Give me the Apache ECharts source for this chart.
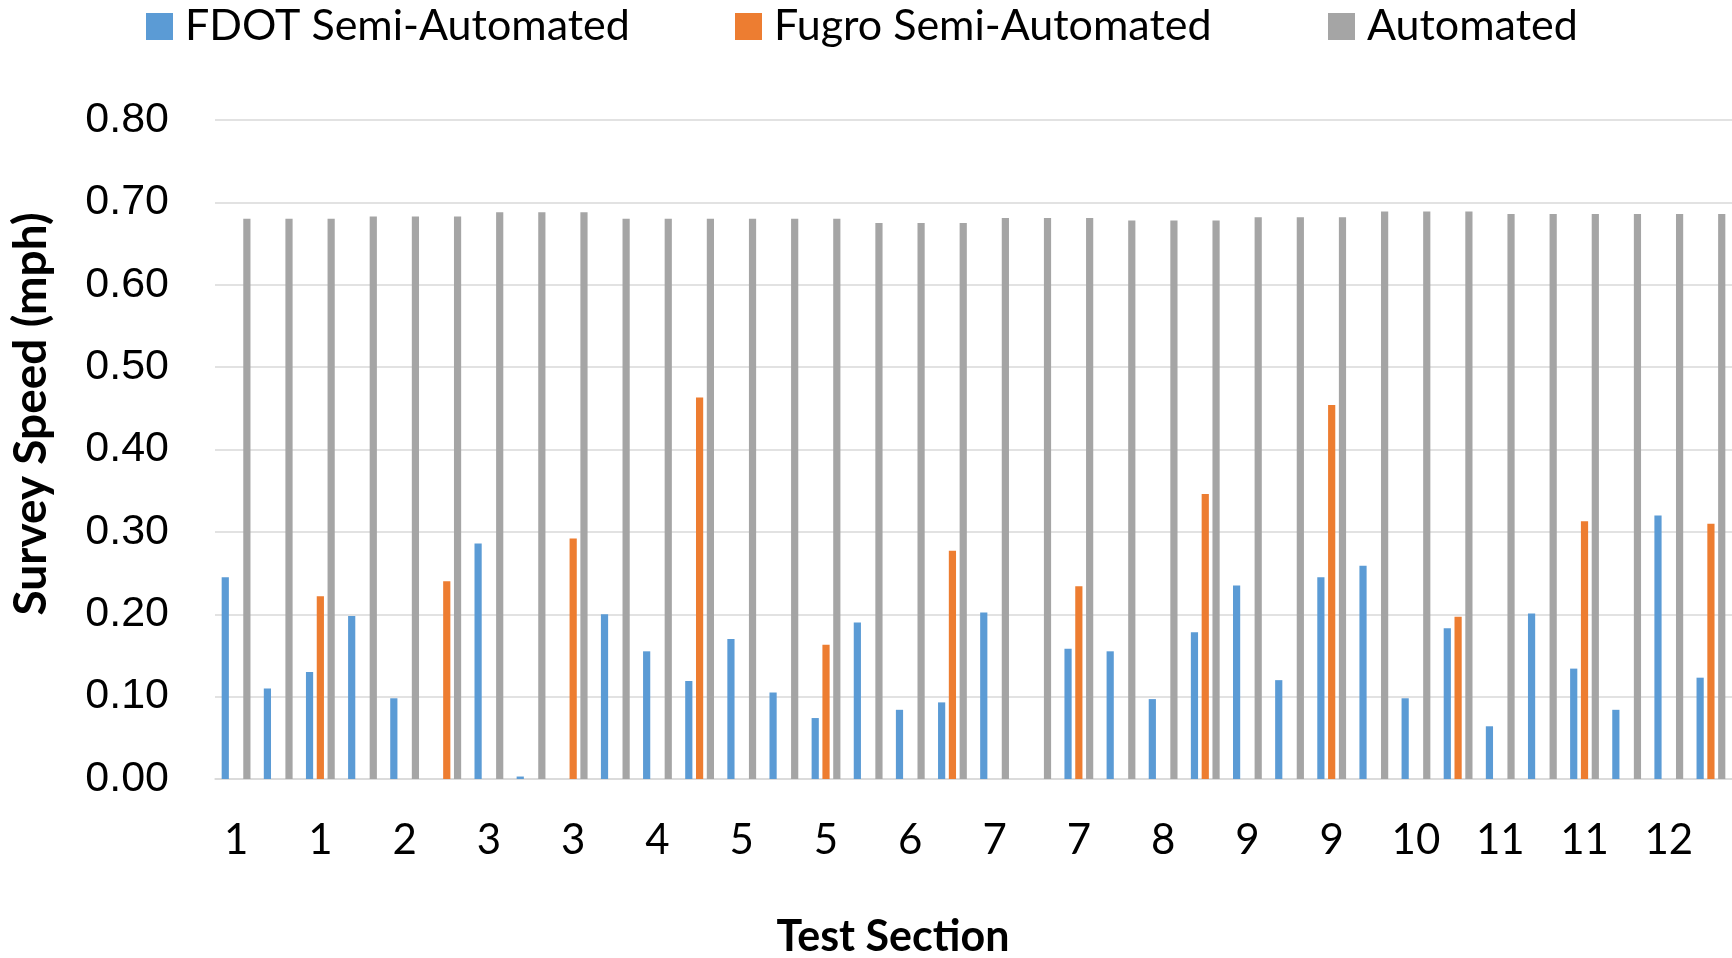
<!DOCTYPE html>
<html>
<head>
<meta charset="utf-8">
<title>Survey Speed by Test Section</title>
<script src="https://cdn.jsdelivr.net/npm/echarts@6/dist/echarts.min.js"></script>
<style>
  html, body { margin: 0; padding: 0; background: #ffffff; }
  #chart { width: 1732px; height: 958px; }
</style>
</head>
<body>
<div id="chart"></div>
<script>
// Test section of each run (three runs per section)
const sections = [
  '1', '1', '1', '2', '2', '2', '3', '3', '3', '4', '4', '4',
  '5', '5', '5', '6', '6', '6', '7', '7', '7', '8', '8', '8',
  '9', '9', '9', '10', '10', '10', '11', '11', '11', '12', '12', '12'
];

// Survey speed (mph); null where no run was recorded
const fdotSemiAutomated = [
  0.245, 0.110, 0.130, 0.198, 0.098, null, 0.286, 0.003, null, 0.200, 0.155, 0.119,
  0.170, 0.105, 0.074, 0.190, 0.084, 0.093, 0.202, null, 0.158, 0.155, 0.097, 0.178,
  0.235, 0.120, 0.245, 0.259, 0.098, 0.183, 0.064, 0.201, 0.134, 0.084, 0.320, 0.123
];

const fugroSemiAutomated = [
  null, null, 0.222, null, null, 0.240, null, null, 0.292, null, null, 0.463,
  null, null, 0.163, null, null, 0.277, null, null, 0.234, null, null, 0.346,
  null, null, 0.454, null, null, 0.197, null, null, 0.313, null, null, 0.310
];

const automated = [
  0.680, 0.680, 0.680, 0.683, 0.683, 0.683, 0.688, 0.688, 0.688, 0.680, 0.680, 0.680,
  0.680, 0.680, 0.680, 0.675, 0.675, 0.675, 0.681, 0.681, 0.681, 0.678, 0.678, 0.678,
  0.682, 0.682, 0.682, 0.689, 0.689, 0.689, 0.686, 0.686, 0.686, 0.686, 0.686, 0.686
];

const seriesNames = ['FDOT Semi-Automated', 'Fugro Semi-Automated', 'Automated'];
const seriesColors = ['#5B9BD5', '#ED7D31', '#A5A5A5'];
const yTicks = { min: 0, max: 0.8, interval: 0.1 };

const FONT = 'Lato, "Open Sans", sans-serif';
const gridColor = '#D9D9D9';

const chart = echarts.init(document.getElementById('chart'), null, { renderer: 'canvas' });

function legendAt(name, left) {
  return {
    data: [name],
    left: left,
    top: 0,
    icon: 'rect',
    itemWidth: 27,
    itemHeight: 27,
    selectedMode: false,
    textStyle: {
      fontFamily: FONT,
      fontSize: 43,
      color: '#000000',
      padding: [0, 0, 0, 7]
    }
  };
}

const option = {
  animation: false,
  backgroundColor: '#ffffff',
  legend: [
    legendAt(seriesNames[0], 141),
    legendAt(seriesNames[1], 730),
    legendAt(seriesNames[2], 1323)
  ],
  grid: { left: 215, right: 0, top: 120, bottom: 179, containLabel: false },
  xAxis: {
    type: 'category',
    data: sections,
    axisLine: { show: true, lineStyle: { color: gridColor, width: 1.5 } },
    axisTick: { show: false },
    axisLabel: {
      interval: 1,
      margin: 40,
      fontFamily: FONT,
      fontSize: 42,
      color: '#000000'
    }
  },
  yAxis: {
    type: 'value',
    min: yTicks.min,
    max: yTicks.max,
    interval: yTicks.interval,
    axisLine: { show: false },
    axisTick: { show: false },
    splitLine: { show: true, lineStyle: { color: gridColor, width: 1.5 } },
    axisLabel: {
      margin: 46,
      fontFamily: '"Liberation Sans", Arial, sans-serif',
      fontSize: 43,
      color: '#000000',
      formatter: function (v) { return v.toFixed(2); }
    }
  },
  series: [
    { name: seriesNames[0], type: 'bar', data: fdotSemiAutomated, barWidth: 7.2, barGap: '50%', itemStyle: { color: seriesColors[0] } },
    { name: seriesNames[1], type: 'bar', data: fugroSemiAutomated, barWidth: 7.2, barGap: '50%', itemStyle: { color: seriesColors[1] } },
    { name: seriesNames[2], type: 'bar', data: automated, barWidth: 7.2, barGap: '50%', itemStyle: { color: seriesColors[2] } }
  ],
  graphic: [
    {
      type: 'text',
      x: 31,
      y: 414,
      rotation: Math.PI / 2,
      style: {
        text: 'Survey Speed (mph)',
        fontFamily: FONT,
        fontWeight: 'bold',
        fontSize: 46,
        fill: '#000000',
        textAlign: 'center',
        textVerticalAlign: 'middle'
      }
    },
    {
      type: 'text',
      x: 893,
      y: 937,
      style: {
        text: 'Test Section',
        fontFamily: FONT,
        fontWeight: 'bold',
        fontSize: 43,
        fill: '#000000',
        textAlign: 'center',
        textVerticalAlign: 'middle'
      }
    }
  ]
};

chart.setOption(option);
</script>
</body>
</html>
